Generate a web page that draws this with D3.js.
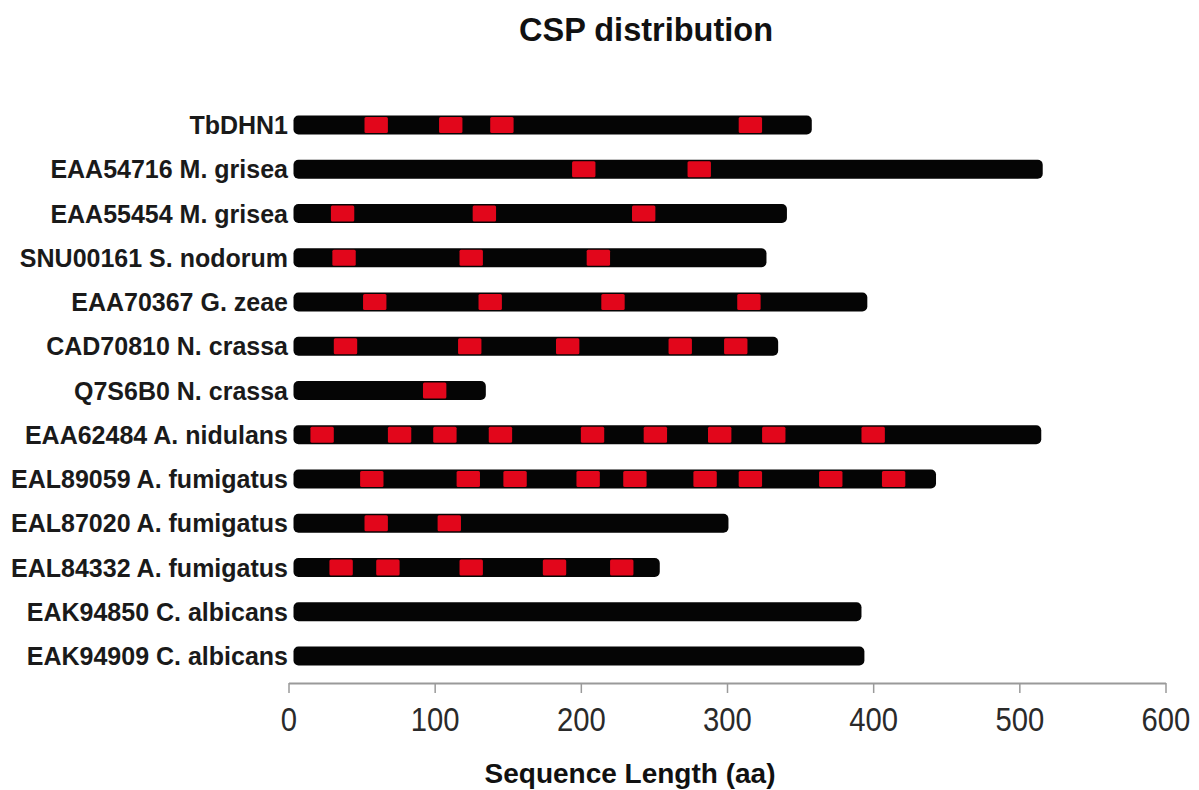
<!DOCTYPE html>
<html>
<head>
<meta charset="utf-8">
<script src="https://cdn.jsdelivr.net/npm/d3@7"></script>
<style>
  html, body { margin: 0; padding: 0; background: #fff; }
  svg { display: block; font-family: "Liberation Sans", Arial, Helvetica, sans-serif; }
</style>
</head>
<body>
<svg id="chart" width="1199" height="790"></svg>
<script>
// ---- data ----
const proteins = [
  "TbDHN1",
  "EAA54716 M. grisea",
  "EAA55454 M. grisea",
  "SNU00161 S. nodorum",
  "EAA70367 G. zeae",
  "CAD70810 N. crassa",
  "Q7S6B0 N. crassa",
  "EAA62484 A. nidulans",
  "EAL89059 A. fumigatus",
  "EAL87020 A. fumigatus",
  "EAL84332 A. fumigatus",
  "EAK94850 C. albicans",
  "EAK94909 C. albicans"
];
const lengths = [358, 516, 341, 327, 396, 335, 135, 515, 443, 301, 254, 392, 394];
const cspStarts = [
  [52, 103, 138, 308],
  [194, 273],
  [29, 126, 235],
  [30, 117, 204],
  [51, 130, 214, 307],
  [31, 116, 183, 260, 298],
  [92],
  [15, 68, 99, 137, 200, 243, 287, 324, 392],
  [49, 115, 147, 197, 229, 277, 308, 363, 406],
  [52, 102],
  [28, 60, 117, 174, 220],
  [],
  []
];
const cspLength = 16;
const xTicks = [0, 100, 200, 300, 400, 500, 600];
const chartTitle = "CSP distribution";
const xTitle = "Sequence Length (aa)";

// ---- layout ----
const svg = d3.select("#chart");
const left = 288.5, right = 1165.5;
const x = d3.scaleLinear().domain([0, 600]).range([left, right]);
const y = d3.scalePoint().domain(proteins).range([125, 656]);
const barH = 19;
const inset = 5;

// title
svg.append("text")
  .attr("x", 646).attr("y", 41)
  .attr("text-anchor", "middle")
  .attr("font-size", 32.5).attr("font-weight", "bold").attr("fill", "#111")
  .text(chartTitle);

// row labels
svg.append("g").selectAll("text").data(proteins).join("text")
  .attr("x", 288)
  .attr("y", d => y(d))
  .attr("dy", "0.36em")
  .attr("text-anchor", "end")
  .attr("font-size", 25).attr("font-weight", "bold").attr("fill", "#1a1a1a")
  .text(d => d);

// bars
const rows = proteins.map((p, i) => ({ p, len: lengths[i], csps: cspStarts[i] }));
const g = svg.append("g");
g.selectAll("rect.bar").data(rows).join("rect")
  .attr("class", "bar")
  .attr("x", d => x(0) + inset)
  .attr("y", d => y(d.p) - barH / 2)
  .attr("width", d => x(d.len) - x(0) - inset)
  .attr("height", barH)
  .attr("rx", 5).attr("ry", 5)
  .attr("fill", "#050505");

// CSP motifs
g.selectAll("g.row").data(rows).join("g").attr("class", "row")
  .each(function(d) {
    d3.select(this).selectAll("rect").data(d.csps).join("rect")
      .attr("x", s => x(s))
      .attr("y", y(d.p) - barH / 2 + 1.5)
      .attr("width", s => x(s + cspLength) - x(s))
      .attr("height", barH - 3)
      .attr("rx", 1.5)
      .attr("fill", "#e2061b");
  });

// x axis
const axis = svg.append("g")
  .attr("transform", "translate(0,683)")
  .call(d3.axisBottom(x).tickValues(xTicks).tickSize(10).tickPadding(14).tickSizeOuter(0));
axis.select(".domain").attr("stroke", "#9a9a9a").attr("stroke-width", 2);
axis.selectAll(".tick line").attr("stroke", "#9a9a9a").attr("stroke-width", 1.5);
axis.selectAll(".tick text")
  .attr("font-size", 34)
  .attr("font-family", "'Liberation Sans', Arial, sans-serif")
  .attr("fill", "#2a2a2a")
  .attr("transform", "scale(0.86,1)");

// x title
svg.append("text")
  .attr("x", 630).attr("y", 783)
  .attr("text-anchor", "middle")
  .attr("font-size", 28).attr("font-weight", "bold").attr("fill", "#111")
  .text(xTitle);
</script>
</body>
</html>
